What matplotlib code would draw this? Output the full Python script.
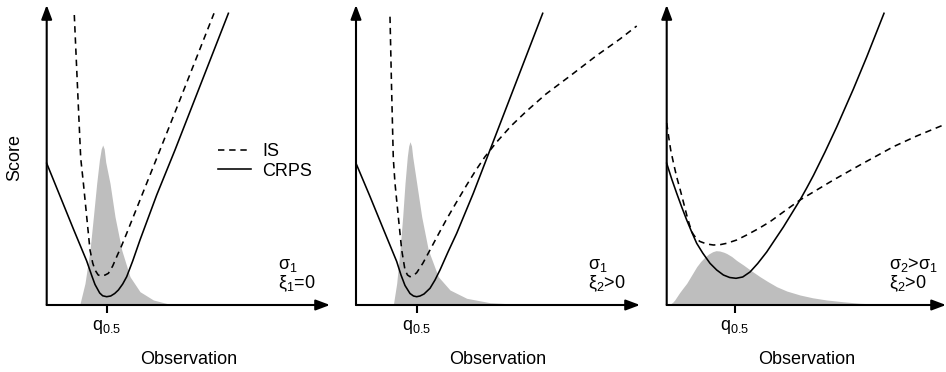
import matplotlib
matplotlib.use('Agg')
import matplotlib.pyplot as plt
from matplotlib.lines import Line2D

plt.rcParams['font.family'] = ['Liberation Sans', 'DejaVu Sans']
plt.rcParams['mathtext.fontset'] = 'custom'
plt.rcParams['mathtext.rm'] = 'Liberation Sans'
plt.rcParams['mathtext.it'] = 'Liberation Sans:italic'
plt.rcParams['mathtext.bf'] = 'Liberation Sans:bold'

# ---------------- data (arbitrary schematic units) ----------------
# Panel 1: sigma_1, xi_1 = 0
dens1_x = [3.3, 3.83, 4.33, 4.67, 5.0, 5.27, 5.45, 5.6, 5.75, 5.9, 6.33, 6.83, 7.5, 8.33, 9.33, 10.67, 12.33, 14.0]
dens1_y = [0.0, 2.17, 5.5, 8.83, 12.17, 14.5, 15.6, 16.0, 15.6, 14.3, 12.17, 8.83, 5.5, 2.83, 1.33, 0.5, 0.07, 0.0]
is1_x = [2.76, 3.16, 3.4, 3.67, 4.0, 4.33, 4.6, 4.83, 5.15, 5.5, 5.85, 6.17, 6.6, 7.0, 7.5, 8.0, 9.33, 11.33, 13.0, 16.73]
is1_y = [29.0, 20.0, 14.7, 12.17, 8.83, 5.5, 4.2, 3.5, 3.0, 2.9, 3.0, 3.17, 3.9, 4.83, 5.95, 7.17, 10.5, 15.5, 19.7, 29.17]
crps1_x = [0.0, 1.33, 2.67, 4.0, 4.5, 4.83, 5.3, 5.6, 6.0, 6.4, 6.8, 7.17, 7.6, 8.0, 8.6, 9.33, 11.0, 12.83, 18.17]
crps1_y = [14.17, 10.9, 7.6, 4.4, 2.95, 2.05, 1.2, 0.92, 0.83, 0.9, 1.15, 1.5, 2.1, 2.83, 4.4, 6.5, 11.0, 15.5, 29.17]
q1 = 6.0

# Panel 2: sigma_1, xi_2 > 0
dens2_x = [3.73, 4.07, 4.4, 4.67, 4.9, 5.13, 5.27, 5.4, 5.55, 5.67, 6.07, 6.57, 7.23, 8.23, 9.4, 11.07, 13.4, 16.7, 20.0]
dens2_y = [0.0, 2.17, 5.5, 8.83, 12.17, 14.83, 15.9, 16.33, 15.9, 14.83, 12.17, 8.83, 5.5, 2.83, 1.5, 0.67, 0.23, 0.05, 0.0]
is2_x = [3.4, 3.55, 3.73, 3.9, 4.23, 4.57, 4.9, 5.15, 5.4, 5.75, 6.07, 6.7, 7.4, 8.2, 9.07, 10.0, 11.07, 12.0, 12.9,
         14.07, 15.5, 17.07, 19.0, 21.4, 24.0, 26.4, 28.07]
is2_y = [28.83, 22.0, 14.67, 12.17, 8.83, 5.5, 3.5, 3.0, 2.83, 2.95, 3.23, 4.2, 5.5, 7.0, 8.6, 10.2, 12.0, 13.5, 14.83,
         16.3, 17.9, 19.4, 21.1, 22.9, 24.9, 26.6, 27.9]
crps2_x = [0.0, 1.4, 2.73, 4.07, 4.5, 4.9, 5.4, 5.75, 6.07, 6.4, 6.8, 7.4, 7.9, 8.4, 9.2, 10.07, 11.73, 13.4, 18.67]
crps2_y = [14.17, 10.85, 7.6, 4.35, 3.0, 1.95, 1.15, 0.9, 0.83, 0.9, 1.1, 1.67, 2.5, 3.5, 5.3, 7.17, 11.17, 15.5, 29.17]
q2 = 6.07

# Panel 3: sigma_2 > sigma_1, xi_2 > 0
dens3_x = [0.0, 0.2, 0.4, 0.6, 0.8, 1.0, 1.3, 1.6, 2.0, 2.5, 3.0, 3.4, 3.83, 4.2, 4.6, 4.93, 5.3, 5.7, 6.0, 6.5,
           7.0, 7.67, 8.5, 9.33, 10.1, 11.0, 12.0, 13.33, 14.6, 16.0, 17.6, 19.33, 21.0, 23.0, 26.3]
dens3_y = [0.0, 0.04, 0.13, 0.27, 0.5, 0.8, 1.25, 1.65, 2.17, 3.0, 3.83, 4.35, 4.8, 5.1, 5.33, 5.43, 5.4, 5.28, 5.15,
           4.85, 4.45, 4.0, 3.4, 2.83, 2.35, 1.83, 1.4, 1.0, 0.72, 0.5, 0.33, 0.17, 0.1, 0.05, 0.0]
is3_x = [0.0, 0.2, 0.4, 0.7, 1.0, 1.33, 1.67, 2.0, 2.3, 2.6, 3.0, 3.33, 4.0, 4.67, 5.33, 6.0, 7.0, 8.0, 9.2,
         10.33, 11.8, 13.33, 15.0, 16.67, 19.33, 22.67, 25.0, 27.67]
is3_y = [18.2, 16.8, 15.5, 14.1, 12.8, 11.6, 10.3, 9.0, 7.95, 7.15, 6.6, 6.35, 6.1, 6.0, 6.03, 6.17, 6.5, 7.0, 7.65,
         8.33, 9.4, 10.5, 11.5, 12.5, 14.0, 15.83, 16.9, 18.0]
crps3_x = [0.0, 0.5, 1.0, 1.5, 2.0, 2.5, 3.0, 3.6, 4.33, 5.0, 5.67, 6.3, 6.93, 7.6, 8.33, 9.1, 10.0, 10.8, 11.67,
           12.5, 13.33, 14.0, 14.67, 15.83, 17.0, 18.67, 20.0, 21.73]
crps3_y = [14.17, 12.6, 11.17, 9.8, 8.5, 7.3, 6.17, 5.2, 4.17, 3.5, 3.0, 2.75, 2.67, 2.8, 3.3, 4.15, 5.3, 6.5, 7.8,
           9.15, 10.5, 11.7, 12.95, 15.3, 17.8, 21.6, 24.8, 29.17]
q3 = 6.83

tick_label = r'$\mathrm{q_{0.5}}$'
legend_labels = ['IS', 'CRPS']
param_text = [
    (r'$\mathrm{\sigma_1}$', r'$\mathrm{\xi_1}$=0'),
    (r'$\mathrm{\sigma_1}$', r'$\mathrm{\xi_2}$>0'),
    (r'$\mathrm{\sigma_2}$>$\mathrm{\sigma_1}$', r'$\mathrm{\xi_2}$>0'),
]

# ---------------- figure ----------------
W, H = 946, 372
fig = plt.figure(figsize=(W / 100, H / 100), dpi=100)

FS = 13
GREY = '#bebebe'
DASH = (0, (4, 3))
LW = 1.15

layout = [(46.7, 283.3, 0.815), (356.0, 284.0, 0.817), (666.7, 279.3, 0.795)]
series = [
    (dens1_x, dens1_y, is1_x, is1_y, crps1_x, crps1_y, q1),
    (dens2_x, dens2_y, is2_x, is2_y, crps2_x, crps2_y, q2),
    (dens3_x, dens3_y, is3_x, is3_y, crps3_x, crps3_y, q3),
]

axes = []
for (left, width, txt_x), (dx, dy, ix, iy, cx, cy, q), (t1, t2) in zip(layout, series, param_text):
    ax = fig.add_axes([left / W, (H - 305) / H, width / W, 300 / H])
    ax.set_xlim(0, width / 10)
    ax.set_ylim(0, 30)
    for s in ax.spines.values():
        s.set_visible(False)
    ax.fill_between(dx, dy, 0, color=GREY, lw=0, zorder=1)
    ax.plot(ix, iy, color='black', lw=LW, ls=DASH, zorder=3, clip_on=False,
            solid_joinstyle='round', dash_joinstyle='round')
    ax.plot(cx, cy, color='black', lw=LW, zorder=3, clip_on=False,
            solid_joinstyle='round')
    arrow = dict(arrowstyle='-|>,head_length=0.85,head_width=0.32', lw=1.5,
                 color='black', shrinkA=0, shrinkB=0)
    ax.annotate('', xy=(1, 0), xytext=(0, 0), xycoords='axes fraction',
                arrowprops=arrow, annotation_clip=False, zorder=5)
    ax.annotate('', xy=(0, 1), xytext=(0, 0), xycoords='axes fraction',
                arrowprops=arrow, annotation_clip=False, zorder=5)
    ax.set_yticks([])
    ax.set_xticks([q])
    ax.set_xticklabels([tick_label])
    ax.tick_params(axis='x', length=6, width=1.5, pad=3.5, labelsize=FS, direction='out')
    ax.set_xlabel('Observation', fontsize=FS, labelpad=11)
    ax.text(txt_x, 0.133, t1, transform=ax.transAxes, fontsize=FS, ha='left', va='center')
    ax.text(txt_x, 0.072, t2, transform=ax.transAxes, fontsize=FS, ha='left', va='center')
    axes.append(ax)

handles = [Line2D([], [], color='black', lw=LW, ls=DASH),
           Line2D([], [], color='black', lw=LW)]
axes[0].legend(handles, legend_labels, loc='upper left',
               bbox_to_anchor=(171.3 / 283.3, 0.54), frameon=False,
               borderpad=0, borderaxespad=0, handlelength=1.8,
               handletextpad=0.65, labelspacing=0.15, fontsize=FS)

fig.text(15 / W, 1 - 157 / H, 'Score', rotation=90, ha='center', va='center', fontsize=FS)

fig.savefig('out.png', dpi=100)
